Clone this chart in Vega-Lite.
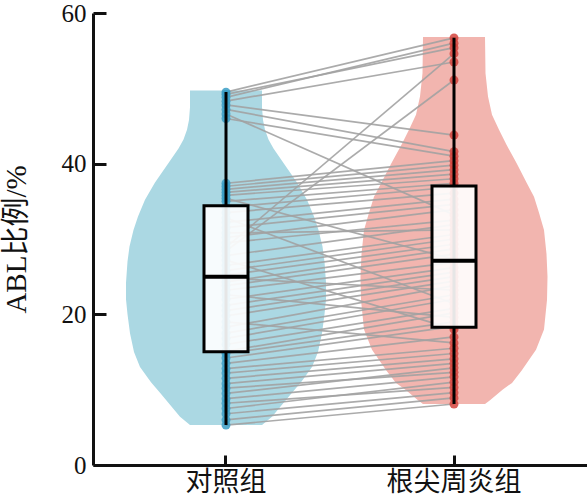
{
 "$schema": "https://vega.github.io/schema/vega-lite/v6.json",
 "width": 494, "height": 452, "autosize": "none",
 "padding": {"left": 93, "top": 13, "right": 0, "bottom": 36},
 "background": "white",
 "config": {"view": {"stroke": null}, "axis": {"grid": false, "domainColor": "#111", "tickColor": "#111", "labelColor": "#111", "titleColor": "#111", "domainWidth": 3, "tickWidth": 3}},
 "datasets": {
  "pts": [
   {"id":1,"group":"对照组","value":49.5},{"id":1,"group":"根尖周炎组","value":56.7},
   {"id":2,"group":"对照组","value":48.8},{"id":2,"group":"根尖周炎组","value":56.0},
   {"id":3,"group":"对照组","value":49.2},{"id":3,"group":"根尖周炎组","value":55.4},
   {"id":4,"group":"对照组","value":28.9},{"id":4,"group":"根尖周炎组","value":54.6},
   {"id":5,"group":"对照组","value":48.3},{"id":5,"group":"根尖周炎组","value":53.5},
   {"id":6,"group":"对照组","value":28.4},{"id":6,"group":"根尖周炎组","value":51.1},
   {"id":7,"group":"对照组","value":47.8},{"id":7,"group":"根尖周炎组","value":43.8},
   {"id":8,"group":"对照组","value":47.2},{"id":8,"group":"根尖周炎组","value":41.6},
   {"id":9,"group":"对照组","value":46.0},{"id":9,"group":"根尖周炎组","value":41.0},
   {"id":10,"group":"对照组","value":46.6},{"id":10,"group":"根尖周炎组","value":33.2},
   {"id":11,"group":"对照组","value":37.4},{"id":11,"group":"根尖周炎组","value":40.4},
   {"id":12,"group":"对照组","value":37.0},{"id":12,"group":"根尖周炎组","value":39.8},
   {"id":13,"group":"对照组","value":36.6},{"id":13,"group":"根尖周炎组","value":39.2},
   {"id":14,"group":"对照组","value":36.2},{"id":14,"group":"根尖周炎组","value":38.6},
   {"id":15,"group":"对照组","value":35.8},{"id":15,"group":"根尖周炎组","value":38.0},
   {"id":16,"group":"对照组","value":35.4},{"id":16,"group":"根尖周炎组","value":27.3},
   {"id":17,"group":"对照组","value":35.0},{"id":17,"group":"根尖周炎组","value":37.4},
   {"id":18,"group":"对照组","value":34.2},{"id":18,"group":"根尖周炎组","value":36.9},
   {"id":19,"group":"对照组","value":33.5},{"id":19,"group":"根尖周炎组","value":36.1},
   {"id":20,"group":"对照组","value":32.8},{"id":20,"group":"根尖周炎组","value":21.4},
   {"id":21,"group":"对照组","value":32.2},{"id":21,"group":"根尖周炎组","value":35.3},
   {"id":22,"group":"对照组","value":31.5},{"id":22,"group":"根尖周炎组","value":34.6},
   {"id":23,"group":"对照组","value":30.8},{"id":23,"group":"根尖周炎组","value":31.2},
   {"id":24,"group":"对照组","value":30.2},{"id":24,"group":"根尖周炎组","value":33.9},
   {"id":25,"group":"对照组","value":29.5},{"id":25,"group":"根尖周炎组","value":32.5},
   {"id":26,"group":"对照组","value":27.8},{"id":26,"group":"根尖周炎组","value":31.9},
   {"id":27,"group":"对照组","value":27.2},{"id":27,"group":"根尖周炎组","value":18.0},
   {"id":28,"group":"对照组","value":26.5},{"id":28,"group":"根尖周炎组","value":30.6},
   {"id":29,"group":"对照组","value":25.8},{"id":29,"group":"根尖周炎组","value":30.0},
   {"id":30,"group":"对照组","value":25.2},{"id":30,"group":"根尖周炎组","value":29.3},
   {"id":31,"group":"对照组","value":24.8},{"id":31,"group":"根尖周炎组","value":23.2},
   {"id":32,"group":"对照组","value":24.3},{"id":32,"group":"根尖周炎组","value":28.7},
   {"id":33,"group":"对照组","value":23.8},{"id":33,"group":"根尖周炎组","value":28.0},
   {"id":34,"group":"对照组","value":23.2},{"id":34,"group":"根尖周炎组","value":26.9},
   {"id":35,"group":"对照组","value":22.6},{"id":35,"group":"根尖周炎组","value":19.6},
   {"id":36,"group":"对照组","value":22.0},{"id":36,"group":"根尖周炎组","value":26.2},
   {"id":37,"group":"对照组","value":21.2},{"id":37,"group":"根尖周炎组","value":25.6},
   {"id":38,"group":"对照组","value":20.5},{"id":38,"group":"根尖周炎组","value":25.0},
   {"id":39,"group":"对照组","value":19.8},{"id":39,"group":"根尖周炎组","value":24.4},
   {"id":40,"group":"对照组","value":19.0},{"id":40,"group":"根尖周炎组","value":16.2},
   {"id":41,"group":"对照组","value":18.3},{"id":41,"group":"根尖周炎组","value":23.8},
   {"id":42,"group":"对照组","value":17.5},{"id":42,"group":"根尖周炎组","value":22.6},
   {"id":43,"group":"对照组","value":16.8},{"id":43,"group":"根尖周炎组","value":22.0},
   {"id":44,"group":"对照组","value":16.0},{"id":44,"group":"根尖周炎组","value":20.8},
   {"id":45,"group":"对照组","value":15.1},{"id":45,"group":"根尖周炎组","value":20.2},
   {"id":46,"group":"对照组","value":14.8},{"id":46,"group":"根尖周炎组","value":19.0},
   {"id":47,"group":"对照组","value":14.2},{"id":47,"group":"根尖周炎组","value":18.4},
   {"id":48,"group":"对照组","value":13.5},{"id":48,"group":"根尖周炎组","value":17.0},
   {"id":49,"group":"对照组","value":12.8},{"id":49,"group":"根尖周炎组","value":15.5},
   {"id":50,"group":"对照组","value":12.2},{"id":50,"group":"根尖周炎组","value":14.8},
   {"id":51,"group":"对照组","value":11.5},{"id":51,"group":"根尖周炎组","value":14.1},
   {"id":52,"group":"对照组","value":10.8},{"id":52,"group":"根尖周炎组","value":13.5},
   {"id":53,"group":"对照组","value":10.2},{"id":53,"group":"根尖周炎组","value":12.3},
   {"id":54,"group":"对照组","value":9.5},{"id":54,"group":"根尖周炎组","value":12.9},
   {"id":55,"group":"对照组","value":8.8},{"id":55,"group":"根尖周炎组","value":11.7},
   {"id":56,"group":"对照组","value":8.2},{"id":56,"group":"根尖周炎组","value":10.3},
   {"id":57,"group":"对照组","value":7.5},{"id":57,"group":"根尖周炎组","value":11.0},
   {"id":58,"group":"对照组","value":6.8},{"id":58,"group":"根尖周炎组","value":9.6},
   {"id":59,"group":"对照组","value":6.0},{"id":59,"group":"根尖周炎组","value":8.9},
   {"id":60,"group":"对照组","value":5.3},{"id":60,"group":"根尖周炎组","value":8.1}
  ],
  "vio": [
   {"group":"对照组","value":5.3,"density":0.72},
   {"group":"对照组","value":6.4,"density":0.92},
   {"group":"对照组","value":8.0,"density":1.12},
   {"group":"对照组","value":9.6,"density":1.32},
   {"group":"对照组","value":11.0,"density":1.50},
   {"group":"对照组","value":13.0,"density":1.72},
   {"group":"对照组","value":15.0,"density":1.84},
   {"group":"对照组","value":17.5,"density":1.92},
   {"group":"对照组","value":20.0,"density":1.97},
   {"group":"对照组","value":22.0,"density":2.00},
   {"group":"对照组","value":24.2,"density":2.00},
   {"group":"对照组","value":27.0,"density":1.97},
   {"group":"对照组","value":29.0,"density":1.93},
   {"group":"对照组","value":31.2,"density":1.85},
   {"group":"对照组","value":33.0,"density":1.76},
   {"group":"对照组","value":35.2,"density":1.62},
   {"group":"对照组","value":37.5,"density":1.42},
   {"group":"对照组","value":40.1,"density":1.15},
   {"group":"对照组","value":42.0,"density":0.95},
   {"group":"对照组","value":43.2,"density":0.85},
   {"group":"对照组","value":44.5,"density":0.78},
   {"group":"对照组","value":45.8,"density":0.74},
   {"group":"对照组","value":47.5,"density":0.72},
   {"group":"对照组","value":49.7,"density":0.72},
   {"group":"根尖周炎组","value":8.1,"density":0.62},
   {"group":"根尖周炎组","value":8.6,"density":0.72},
   {"group":"根尖周炎组","value":10.0,"density":0.97},
   {"group":"根尖周炎组","value":10.9,"density":1.16},
   {"group":"根尖周炎组","value":12.5,"density":1.35},
   {"group":"根尖周炎组","value":15.3,"density":1.64},
   {"group":"根尖周炎组","value":18.0,"density":1.80},
   {"group":"根尖周炎组","value":21.9,"density":1.86},
   {"group":"根尖周炎组","value":25.0,"density":1.87},
   {"group":"根尖周炎组","value":28.0,"density":1.85},
   {"group":"根尖周炎组","value":31.2,"density":1.80},
   {"group":"根尖周炎组","value":33.5,"density":1.70},
   {"group":"根尖周炎组","value":35.6,"density":1.60},
   {"group":"根尖周炎组","value":37.5,"density":1.45},
   {"group":"根尖周炎组","value":40.1,"density":1.25},
   {"group":"根尖周炎组","value":42.5,"density":1.05},
   {"group":"根尖周炎组","value":44.5,"density":0.90},
   {"group":"根尖周炎组","value":46.5,"density":0.76},
   {"group":"根尖周炎组","value":48.9,"density":0.68},
   {"group":"根尖周炎组","value":52.0,"density":0.63},
   {"group":"根尖周炎组","value":56.8,"density":0.62}
  ]
 },
 "layer": [
  {
   "data": {"name": "vio"},
   "transform": [{"filter": "datum.group === '对照组'"}],
   "mark": {"type": "area", "orient": "horizontal", "color": "#abd8e3", "opacity": 1},
   "encoding": {
    "x": {"field": "density", "type": "quantitative", "stack": "center", "scale": {"domain": [-0.33, 4.61]}, "axis": null},
    "y": {"field": "value", "type": "quantitative", "scale": {"domain": [0, 60], "nice": false, "zero": true},
     "axis": {"title": "ABL比例/%", "values": [0, 20, 40, 60], "tickSize": -13, "labelFont": "Liberation Serif", "labelFontSize": 25, "labelPadding": 20, "titleFont": "Liberation Serif, Noto Sans CJK SC", "titleFontSize": 29, "titleFontWeight": "normal", "titlePadding": 30}}
   }
  },
  {
   "data": {"name": "vio"},
   "transform": [{"filter": "datum.group === '根尖周炎组'"}],
   "mark": {"type": "area", "orient": "horizontal", "color": "#f2b5af", "opacity": 1},
   "encoding": {
    "x": {"field": "density", "type": "quantitative", "stack": "center", "scale": {"domain": [-2.675, 2.265]}, "axis": null},
    "y": {"field": "value", "type": "quantitative", "title": "ABL比例/%"}
   }
  },
  {
   "data": {"name": "pts"},
   "encoding": {
    "x": {"field": "group", "type": "nominal", "scale": {"type": "band", "domain": ["对照组", "根尖周炎组"], "paddingInner": 0, "paddingOuter": 0.0833},
     "axis": {"title": null, "labelAngle": 0, "tickSize": -10, "labelFont": "Noto Sans CJK SC", "labelFontSize": 27, "labelPadding": 14}}
   },
   "layer": [
    {
     "mark": {"type": "line", "color": "#a2a2a2", "strokeWidth": 1.7, "opacity": 0.9},
     "encoding": {"detail": {"field": "id"}, "y": {"field": "value", "type": "quantitative", "title": "ABL比例/%"}}
    },
    {
     "mark": {"type": "circle", "size": 80, "opacity": 0.85},
     "encoding": {
      "y": {"field": "value", "type": "quantitative", "title": "ABL比例/%"},
      "color": {"field": "group", "type": "nominal", "scale": {"domain": ["对照组", "根尖周炎组"], "range": ["#3a9dc6", "#d4443d"]}, "legend": null}
     }
    },
    {
     "transform": [{"aggregate": [{"op": "min", "field": "value", "as": "min"}, {"op": "max", "field": "value", "as": "max"}], "groupby": ["group"]}],
     "mark": {"type": "rule", "color": "#000", "strokeWidth": 3},
     "encoding": {"y": {"field": "min", "type": "quantitative", "title": "ABL比例/%"}, "y2": {"field": "max"}}
    },
    {
     "transform": [{"aggregate": [{"op": "q1", "field": "value", "as": "q1"}, {"op": "q3", "field": "value", "as": "q3"}], "groupby": ["group"]}],
     "mark": {"type": "bar", "size": 44, "fill": "white", "fillOpacity": 0.9, "stroke": "#000", "strokeWidth": 3},
     "encoding": {"y": {"field": "q1", "type": "quantitative", "title": "ABL比例/%"}, "y2": {"field": "q3"}}
    },
    {
     "transform": [{"aggregate": [{"op": "median", "field": "value", "as": "median"}], "groupby": ["group"]}],
     "mark": {"type": "tick", "orient": "horizontal", "size": 46, "thickness": 4, "color": "#000", "opacity": 1},
     "encoding": {"y": {"field": "median", "type": "quantitative", "title": "ABL比例/%"}}
    }
   ]
  }
 ],
 "resolve": {"scale": {"x": "independent"}}
}
